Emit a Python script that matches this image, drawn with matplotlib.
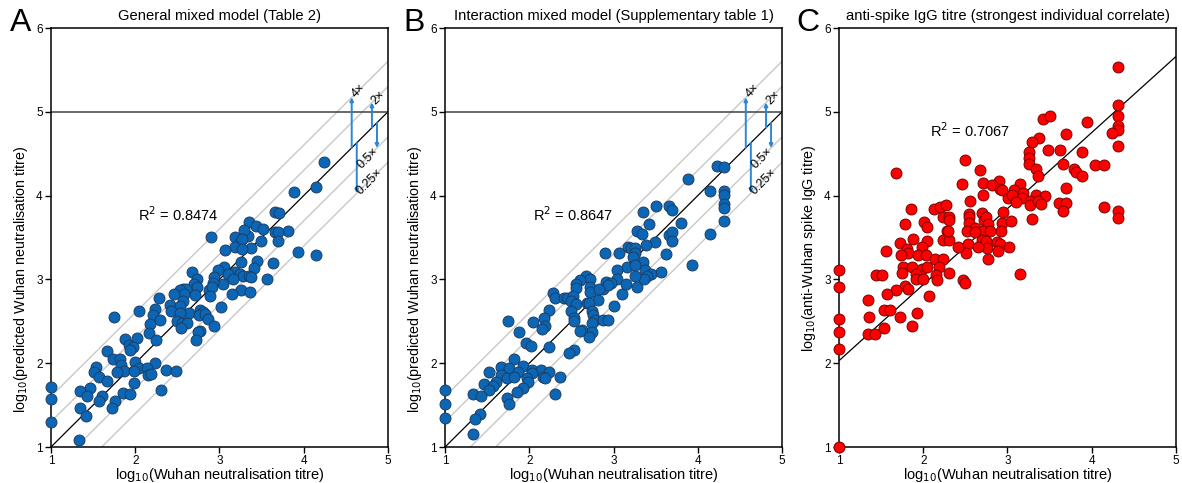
import numpy as np
import matplotlib
matplotlib.use("Agg")
import matplotlib.pyplot as plt

plt.rcParams['font.family'] = ['Liberation Sans', 'DejaVu Sans']

# panel A: general mixed model (observed, predicted)
a_points = [(4.24, 4.40), (4.15, 4.10), (3.885, 4.04), (3.66, 3.80), (3.71, 3.79), (3.35, 3.69),
            (3.43, 3.64), (3.52, 3.60), (3.19, 3.51), (3.34, 3.52), (2.90, 3.51), (3.29, 3.59),
            (3.81, 3.58), (3.66, 3.57), (3.70, 3.56), (3.24, 3.45), (3.27, 3.48), (3.19, 3.39),
            (3.38, 3.38), (3.49, 3.46), (3.70, 3.46), (3.27, 3.36), (3.07, 3.35), (3.93, 3.33),
            (4.15, 3.29), (3.44, 3.22), (3.25, 3.21), (3.63, 3.20), (3.41, 3.14), (3.05, 3.15),
            (2.98, 3.11), (3.19, 3.09), (3.10, 3.06), (3.24, 3.07), (3.28, 3.04), (3.35, 3.04),
            (3.16, 3.01), (3.37, 3.03), (3.56, 3.00), (2.67, 3.09), (2.73, 3.01), (2.94, 3.03),
            (3.04, 2.95), (2.92, 2.96), (2.70, 2.95), (2.73, 2.91), (2.57, 2.89), (2.60, 2.89),
            (2.53, 2.87), (2.88, 2.87), (2.91, 2.91), (2.71, 2.81), (2.58, 2.83), (3.25, 2.87),
            (3.36, 2.85), (3.15, 2.82), (2.89, 2.80), (2.46, 2.82), (2.28, 2.78), (2.57, 2.74),
            (2.41, 2.69), (2.53, 2.68), (3.02, 2.67), (2.23, 2.65), (2.77, 2.64), (2.43, 2.62),
            (2.04, 2.62), (2.81, 2.61), (2.64, 2.60), (2.53, 2.60), (2.76, 2.58), (2.83, 2.59),
            (2.21, 2.58), (1.75, 2.55), (2.87, 2.53), (2.30, 2.52), (2.50, 2.50), (2.18, 2.47),
            (2.55, 2.48), (2.61, 2.48), (2.93, 2.45), (2.54, 2.42), (2.77, 2.39), (2.75, 2.37),
            (2.16, 2.36), (1.88, 2.29), (2.02, 2.30), (2.25, 2.28), (2.72, 2.28), (1.93, 2.22),
            (1.97, 2.19), (1.94, 2.16), (1.67, 2.15), (1.74, 2.05), (1.82, 2.05), (2.00, 2.02),
            (1.83, 1.98), (2.24, 2.00), (1.53, 1.95), (1.51, 1.90), (1.87, 1.91), (1.78, 1.89),
            (2.04, 1.94), (1.99, 1.91), (2.14, 1.94), (2.15, 1.86), (2.19, 1.87), (2.36, 1.92),
            (2.48, 1.91), (1.57, 1.83), (1.67, 1.79), (1.98, 1.76), (1.46, 1.71), (1.00, 1.72),
            (1.34, 1.67), (1.86, 1.64), (1.94, 1.63), (2.31, 1.68), (1.61, 1.61), (1.43, 1.61),
            (1.00, 1.57), (1.57, 1.55), (1.76, 1.55), (1.35, 1.47), (1.73, 1.46), (1.42, 1.37),
            (1.00, 1.30), (1.33, 1.08)]

# panel B: interaction mixed model (observed, predicted)
b_points = [(4.23, 4.35), (4.31, 4.34), (3.88, 4.20), (4.14, 4.05), (4.31, 4.06), (4.31, 4.01),
            (4.31, 3.90), (4.31, 3.85), (4.31, 3.70), (4.14, 3.54), (3.35, 3.81), (3.51, 3.88),
            (3.66, 3.88), (3.70, 3.83), (3.42, 3.66), (3.80, 3.67), (3.28, 3.58), (3.34, 3.54),
            (3.66, 3.53), (3.70, 3.56), (3.70, 3.46), (3.49, 3.45), (3.38, 3.41), (3.17, 3.39),
            (3.21, 3.37), (3.25, 3.38), (2.90, 3.31), (3.06, 3.31), (3.26, 3.31), (3.23, 3.27),
            (3.16, 3.15), (3.35, 3.21), (3.62, 3.30), (3.93, 3.17), (3.26, 3.17), (3.37, 3.11),
            (3.04, 3.11), (3.04, 3.01), (3.56, 3.09), (3.44, 3.07), (3.40, 3.04), (3.36, 3.00),
            (3.25, 3.04), (3.15, 2.95), (3.28, 2.91), (3.10, 2.83), (3.01, 2.68), (2.67, 3.04),
            (2.72, 3.01), (2.60, 2.99), (2.56, 2.95), (2.56, 2.90), (2.72, 2.91), (2.72, 2.85),
            (2.91, 2.97), (2.97, 2.96), (2.87, 2.89), (2.93, 2.93), (2.83, 2.88), (2.28, 2.84),
            (2.30, 2.78), (2.41, 2.78), (2.45, 2.78), (2.52, 2.80), (2.50, 2.74), (2.56, 2.71),
            (2.82, 2.76), (2.69, 2.72), (2.71, 2.72), (2.49, 2.62), (2.23, 2.64), (2.75, 2.62),
            (2.76, 2.58), (2.78, 2.52), (2.75, 2.48), (2.87, 2.51), (2.93, 2.52), (2.53, 2.54),
            (2.53, 2.50), (2.17, 2.54), (2.04, 2.49), (2.19, 2.45), (2.15, 2.41), (1.75, 2.50),
            (2.62, 2.40), (2.60, 2.39), (2.75, 2.37), (2.71, 2.31), (1.88, 2.37), (1.96, 2.24),
            (2.02, 2.20), (2.24, 2.19), (2.53, 2.16), (2.47, 2.12), (1.82, 2.05), (1.67, 1.95),
            (1.76, 1.94), (1.93, 1.97), (1.87, 1.90), (1.52, 1.89), (2.03, 1.92), (2.14, 1.92),
            (2.24, 1.90), (2.03, 1.88), (1.66, 1.86), (1.73, 1.82), (1.82, 1.83), (1.97, 1.82),
            (2.16, 1.84), (2.19, 1.82), (2.36, 1.83), (1.46, 1.75), (1.61, 1.78), (1.99, 1.78),
            (1.57, 1.73), (1.52, 1.68), (1.00, 1.68), (1.93, 1.70), (1.86, 1.66), (1.33, 1.63),
            (1.43, 1.61), (2.30, 1.63), (1.73, 1.58), (1.76, 1.51), (1.00, 1.51), (1.42, 1.39),
            (1.35, 1.33), (1.00, 1.35), (1.33, 1.16)]

# panel C: anti-spike IgG titre vs neutralisation titre
c_points = [(4.31, 5.54), (4.31, 5.08), (4.31, 4.95), (4.31, 4.83), (4.31, 4.78), (4.24, 4.75),
            (4.31, 4.59), (4.31, 3.82), (4.31, 3.73), (3.42, 4.91), (3.51, 4.95), (3.94, 4.88),
            (3.38, 4.69), (3.69, 4.73), (3.29, 4.64), (3.48, 4.54), (3.62, 4.55), (3.88, 4.52),
            (3.25, 4.52), (3.25, 4.45), (3.25, 4.38), (3.66, 4.38), (4.04, 4.37), (4.14, 4.36),
            (3.34, 4.32), (3.79, 4.32), (3.81, 4.28), (3.36, 4.23), (3.88, 4.23), (1.68, 4.27),
            (2.50, 4.42), (2.67, 4.31), (2.46, 4.14), (2.71, 4.15), (2.90, 4.17), (2.82, 4.13),
            (2.91, 4.08), (2.93, 4.07), (3.15, 4.14), (3.08, 4.07), (3.19, 4.03), (2.71, 4.01),
            (3.01, 3.97), (3.05, 4.01), (3.34, 4.01), (3.44, 4.00), (3.70, 4.09), (3.17, 3.97),
            (3.10, 3.92), (3.27, 3.93), (3.27, 3.89), (3.36, 3.94), (3.40, 3.90), (3.61, 3.91),
            (3.69, 3.91), (3.66, 3.82), (4.14, 3.87), (3.29, 3.72), (2.56, 3.93), (1.85, 3.84),
            (2.13, 3.84), (2.20, 3.86), (2.27, 3.89), (2.24, 3.75), (2.31, 3.75), (2.31, 3.71),
            (2.01, 3.69), (2.05, 3.63), (1.78, 3.66), (2.28, 3.58), (2.54, 3.78), (2.54, 3.74),
            (2.54, 3.67), (2.61, 3.61), (2.70, 3.79), (2.72, 3.71), (2.75, 3.74), (2.77, 3.66),
            (2.71, 3.58), (2.79, 3.58), (2.93, 3.67), (3.04, 3.70), (2.95, 3.81), (2.52, 3.58),
            (2.62, 3.56), (2.70, 3.47), (2.75, 3.46), (2.76, 3.38), (2.92, 3.58), (2.87, 3.45),
            (2.91, 3.42), (2.89, 3.34), (3.02, 3.39), (2.53, 3.42), (2.51, 3.32), (2.41, 3.39),
            (2.65, 3.39), (2.77, 3.24), (3.15, 3.07), (2.24, 3.47), (2.31, 3.47), (2.29, 3.58),
            (2.04, 3.46), (1.88, 3.48), (1.99, 3.39), (1.73, 3.43), (1.81, 3.36), (1.82, 3.32),
            (1.56, 3.34), (1.74, 3.29), (1.94, 3.29), (2.03, 3.29), (2.14, 3.24), (2.24, 3.24),
            (1.76, 3.15), (1.75, 3.08), (1.87, 3.15), (1.98, 3.13), (2.04, 3.15), (2.19, 3.15),
            (1.91, 3.07), (1.92, 3.00), (2.00, 3.00), (2.15, 3.05), (2.16, 2.99), (2.31, 3.08),
            (1.44, 3.05), (1.51, 3.05), (1.78, 2.92), (1.82, 2.89), (1.68, 2.87), (1.57, 2.83),
            (2.07, 2.80), (2.47, 2.99), (2.49, 2.96), (1.34, 2.76), (1.36, 2.55), (1.53, 2.64),
            (1.61, 2.64), (1.73, 2.55), (1.93, 2.60), (1.87, 2.45), (1.53, 2.42), (1.34, 2.35),
            (1.43, 2.35), (1.00, 3.11), (1.00, 2.91), (1.00, 2.53), (1.00, 2.37), (1.00, 2.17),
            (1.00, 1.00)]

panel_letters = ['A', 'B', 'C']
titles = ['General mixed model (Table 2)',
          'Interaction mixed model (Supplementary table 1)',
          'anti-spike IgG titre (strongest individual correlate)']
ylabels = ['log$_{10}$(predicted Wuhan neutralisation titre)',
           'log$_{10}$(predicted Wuhan neutralisation titre)',
           'log$_{10}$(anti-Wuhan spike IgG titre)']
ylabel_centre = [0.40, 0.40, 0.475]
xlabel = 'log$_{10}$(Wuhan neutralisation titre)'
r2_values = ['0.8474', '0.8647', '0.7067']
r2_pos = [(2.03, 3.77), (2.04, 3.77), (2.08, 4.77)]

# fold-change guides for panels A and B
folds = [4, 2, 0.5, 0.25]
fold_labels = ['4×', '2×', '0.5×', '0.25×']
fold_arrow_x = [4.57, 4.81, 4.87, 4.63]
fold_label_pos = [(4.65, 5.25), (4.89, 5.17), (4.76, 4.45), (4.78, 4.17)]

# regression line in panel C
c_slope, c_intercept = 0.9075, 1.1225

blue_face, blue_edge = '#0b67b5', '#1c3d66'
red_face, red_edge = '#ff0000', '#7a0000'
arrow_col = '#2b86d6'

fig = plt.figure(figsize=(11.82, 4.83), dpi=100)
lefts = [0.0431, 0.3765, 0.7098]
all_points = [a_points, b_points, c_points]

for i in range(3):
    ax = fig.add_axes([lefts[i], 0.0745, 0.2851, 0.8675])
    pts = np.array(all_points[i])
    xx = np.linspace(1, 5, 50)

    if i < 2:
        for f in folds:
            ax.plot(xx, xx + np.log10(f), color='#c8c8c8', lw=1.0, zorder=1)
        ax.plot(xx, xx, color='black', lw=0.9, zorder=2)
        ax.axhline(5, color='#404040', lw=1.1, zorder=2)
        for f, xa in zip(folds, fold_arrow_x):
            ax.annotate('', xy=(xa, xa + np.log10(f)), xytext=(xa, xa),
                        arrowprops=dict(arrowstyle='-|>', color=arrow_col, lw=1.4,
                                        mutation_scale=5, shrinkA=0, shrinkB=0),
                        zorder=3)
        for lab, (tx, ty) in zip(fold_labels, fold_label_pos):
            ax.text(tx, ty, lab, rotation=45, fontsize=9, ha='center', va='center')
        face, edge = blue_face, blue_edge
    else:
        ax.plot(xx, c_slope * xx + c_intercept, color='black', lw=0.9, zorder=2)
        face, edge = red_face, red_edge

    ax.scatter(pts[:, 0], pts[:, 1], s=62, c=face, edgecolors=edge, linewidths=0.7,
               zorder=4, clip_on=False)

    ax.text(r2_pos[i][0], r2_pos[i][1], 'R$^2$ = ' + r2_values[i], fontsize=10.5,
            ha='left', va='center')

    ax.set_xlim(1, 5)
    ax.set_ylim(1, 6)
    ax.set_xticks([1, 2, 3, 4, 5])
    ax.set_yticks([1, 2, 3, 4, 5, 6])
    ax.tick_params(labelsize=8.5, length=4, width=1, direction='out', pad=2)
    for sp in ax.spines.values():
        sp.set_linewidth(1.1)
    ax.set_xlabel(xlabel, fontsize=10.5, labelpad=-1)
    ax.set_ylabel(ylabels[i], fontsize=10.3)
    ax.yaxis.set_label_coords(-0.063, ylabel_centre[i])
    ax.set_title(titles[i], fontsize=10.6, pad=6)
    fig.text(lefts[i] - 0.026, 0.952, panel_letters[i], fontsize=23, ha='center', va='center')

fig.savefig('out.png', dpi=100)
